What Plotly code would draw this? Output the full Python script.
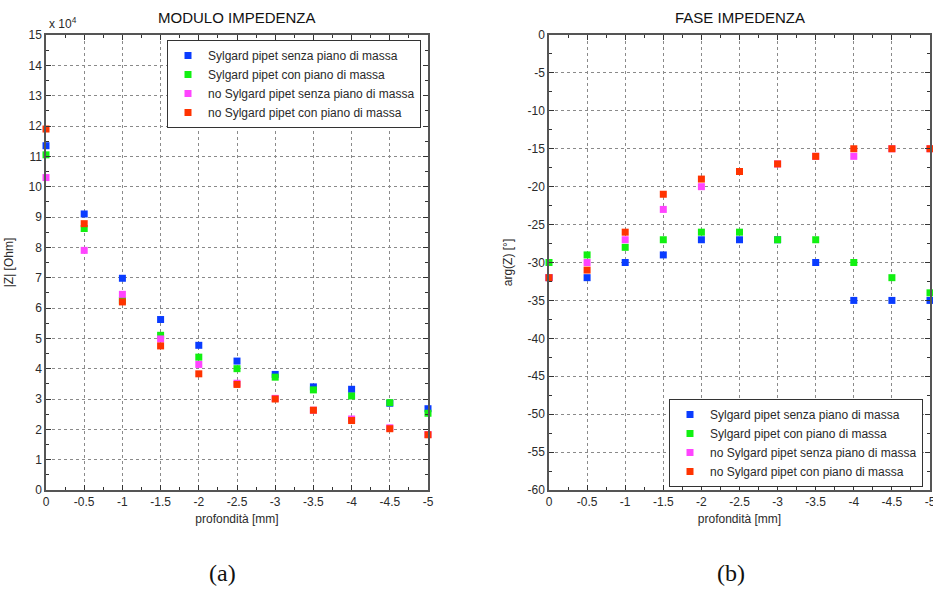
import plotly.graph_objects as go

# Depth positions (mm)
depth = [0, -0.5, -1, -1.5, -2, -2.5, -3, -3.5, -4, -4.5, -5]

series_names = [
    "Sylgard pipet senza piano di massa",
    "Sylgard pipet con piano di massa",
    "no Sylgard pipet senza piano di massa",
    "no Sylgard pipet con piano di massa",
]
series_colors = ["#0a3cff", "#11f011", "#ff44ff", "#ff3300"]

# Impedance magnitude |Z| [Ohm]
mod_sylgard_senza = [113500, 91000, 69800, 56200, 47700, 42500, 38100, 34000, 33200, 28600, 26800]
mod_sylgard_con = [110500, 86200, 62500, 51000, 43800, 40000, 37200, 33000, 31000, 28800, 25300]
mod_nosyl_senza = [103000, 79000, 64500, 49800, 41400, 35200, 30200, 26300, 23400, 20500, 18300]
mod_nosyl_con = [119000, 87800, 62000, 47500, 38300, 34800, 30000, 26300, 22900, 20200, 18200]

# Impedance phase arg(Z) [deg]
fase_sylgard_senza = [-32, -32, -30, -29, -27, -27, -27, -30, -35, -35, -35]
fase_sylgard_con = [-30, -29, -28, -27, -26, -26, -27, -27, -30, -32, -34]
fase_nosyl_senza = [-32, -30, -27, -23, -20, -18, -17, -16, -16, -15, -15]
fase_nosyl_con = [-32, -31, -26, -21, -19, -18, -17, -16, -15, -15, -15]

x_tickvals = [0, -0.5, -1, -1.5, -2, -2.5, -3, -3.5, -4, -4.5, -5]
x_ticktext = ["0", "-0.5", "-1", "-1.5", "-2", "-2.5", "-3", "-3.5", "-4", "-4.5", "-5"]
mod_tick_units = list(range(0, 16))
fase_tickvals = list(range(0, -61, -5))

modulo = [mod_sylgard_senza, mod_sylgard_con, mod_nosyl_senza, mod_nosyl_con]
fase = [fase_sylgard_senza, fase_sylgard_con, fase_nosyl_senza, fase_nosyl_con]

fig = go.Figure()

for name, color, ys in zip(series_names, series_colors, modulo):
    fig.add_trace(go.Scatter(
        x=depth, y=ys, mode="markers", name=name,
        marker=dict(symbol="square", size=7, color=color, line=dict(width=0)),
        xaxis="x", yaxis="y", legend="legend", cliponaxis=False,
    ))

for name, color, ys in zip(series_names, series_colors, fase):
    fig.add_trace(go.Scatter(
        x=depth, y=ys, mode="markers", name=name,
        marker=dict(symbol="square", size=7, color=color, line=dict(width=0)),
        xaxis="x2", yaxis="y2", legend="legend2", cliponaxis=False,
    ))

W, H = 933, 590
top_px, bot_px = 35, 490
ydom = [1 - bot_px / H, 1 - top_px / H]
xdom1 = [46 / W, 428 / W]
xdom2 = [549 / W, 930 / W]

tick_font = dict(family="Liberation Sans, Arial, sans-serif", size=12, color="#2a2a2a")
frame_color = "#555555"

common_x = dict(
    range=[0, -5], autorange=False, automargin=False,
    tickvals=x_tickvals, ticktext=x_ticktext, ticklabeloverflow="allow",
    ticks="inside", ticklen=5, tickcolor="#333333", mirror="allticks",
    showline=True, linecolor=frame_color, linewidth=1.5,
    showgrid=True, gridcolor="#8a8a8a", griddash="dot", gridwidth=1,
    zeroline=False, tickfont=tick_font,
    minor=dict(dtick=0.25, tick0=0, ticks="inside", ticklen=3, tickcolor="#333333", showgrid=False),
    title=dict(text="profondità [mm]", font=tick_font, standoff=6),
)

fig.update_layout(
    width=W, height=H,
    margin=dict(l=0, r=0, t=0, b=0, autoexpand=False),
    paper_bgcolor="white", plot_bgcolor="white",
    font=dict(family="Liberation Sans, Arial, sans-serif", color="#333333"),
    xaxis=dict(domain=xdom1, anchor="y", **common_x),
    xaxis2=dict(domain=xdom2, anchor="y2", **common_x),
    yaxis=dict(
        domain=ydom, anchor="x", range=[0, 150000], autorange=False, automargin=False,
        tickvals=[v * 10000 for v in mod_tick_units],
        ticktext=[str(v) for v in mod_tick_units], ticklabeloverflow="allow",
        ticks="inside", ticklen=5, tickcolor="#333333", mirror="allticks",
        showline=True, linecolor=frame_color, linewidth=1.5,
        showgrid=True, gridcolor="#8a8a8a", griddash="dot", gridwidth=1,
        zeroline=False, tickfont=tick_font,
        minor=dict(dtick=5000, tick0=0, ticks="inside", ticklen=3, tickcolor="#333333", showgrid=False),
        title=dict(text="|Z| [Ohm]", font=tick_font, standoff=12),
    ),
    yaxis2=dict(
        domain=ydom, anchor="x2", range=[-60, 0], autorange=False, automargin=False,
        tickvals=fase_tickvals, ticktext=[str(v) for v in fase_tickvals], ticklabeloverflow="allow",
        ticks="inside", ticklen=5, tickcolor="#333333", mirror="allticks",
        showline=True, linecolor=frame_color, linewidth=1.5,
        showgrid=True, gridcolor="#8a8a8a", griddash="dot", gridwidth=1,
        zeroline=False, tickfont=tick_font,
        minor=dict(dtick=2.5, tick0=0, ticks="inside", ticklen=3, tickcolor="#333333", showgrid=False),
        title=dict(text="arg(Z) [°]", font=tick_font, standoff=12),
    ),
    legend=dict(
        x=167 / W, y=1 - 40 / H, xanchor="left", yanchor="top",
        bgcolor="white", bordercolor="#333333", borderwidth=1,
        font=dict(family="Liberation Sans, Arial, sans-serif", size=12, color="#2a2a2a"),
        tracegroupgap=0, itemwidth=30,
    ),
    legend2=dict(
        x=669 / W, y=1 - 487 / H, xanchor="left", yanchor="bottom",
        bgcolor="white", bordercolor="#333333", borderwidth=1,
        font=dict(family="Liberation Sans, Arial, sans-serif", size=12, color="#2a2a2a"),
        tracegroupgap=0, itemwidth=30,
    ),
    showlegend=True,
)

title_font = dict(family="Liberation Sans, Arial, sans-serif", size=15, color="#111111")
annotations = [
    dict(text="MODULO IMPEDENZA", x=sum(xdom1) / 2, y=1 - 18 / H, xref="paper", yref="paper",
         showarrow=False, font=title_font, xanchor="center", yanchor="middle"),
    dict(text="FASE IMPEDENZA", x=sum(xdom2) / 2, y=1 - 18 / H, xref="paper", yref="paper",
         showarrow=False, font=title_font, xanchor="center", yanchor="middle"),
    dict(text="x 10<sup>4</sup>", x=47 / W, y=1 - 33 / H, xref="paper", yref="paper",
         showarrow=False, font=dict(family="Liberation Sans, Arial, sans-serif", size=12, color="#2a2a2a"),
         xanchor="left", yanchor="bottom"),
    dict(text="(a)", x=222 / W, y=1 - 573 / H, xref="paper", yref="paper",
         showarrow=False, font=dict(family="Liberation Serif, DejaVu Serif, serif", size=24, color="#111111"),
         xanchor="center", yanchor="middle"),
    dict(text="(b)", x=731 / W, y=1 - 573 / H, xref="paper", yref="paper",
         showarrow=False, font=dict(family="Liberation Serif, DejaVu Serif, serif", size=24, color="#111111"),
         xanchor="center", yanchor="middle"),
]
fig.update_layout(annotations=annotations)

fig.write_html("out.html")
